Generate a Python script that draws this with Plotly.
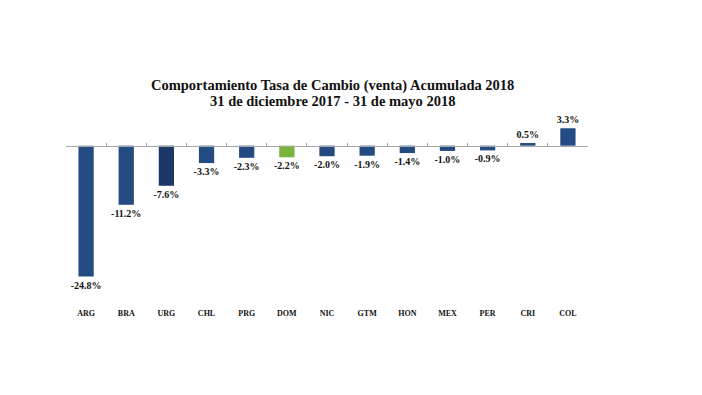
import plotly.graph_objects as go

categories = ["ARG", "BRA", "URG", "CHL", "PRG", "DOM", "NIC", "GTM", "HON", "MEX", "PER", "CRI", "COL"]
values = [-24.8, -11.2, -7.6, -3.3, -2.3, -2.2, -2.0, -1.9, -1.4, -1.0, -0.9, 0.5, 3.3]
labels = [f"{v:.1f}%" for v in values]
colors = ["#244B82", "#244B82", "#1B3866", "#244B82", "#244B82", "#7AB43E", "#244B82",
          "#244B82", "#244B82", "#244B82", "#244B82", "#244B82", "#244B82"]
title_lines = ["Comportamiento Tasa de Cambio (venta) Acumulada 2018",
               "31 de diciembre 2017 - 31 de mayo 2018"]

W, H = 694, 387
ml, mr, mt, mb = 58, 114, 106, 91
PH = H - mt - mb
PW = W - ml - mr
xrange_ = [-0.5, len(categories) - 0.5]

fig = go.Figure()
fig.add_trace(go.Bar(
    x=categories, y=values, marker=dict(color=colors, line=dict(width=0)),
    width=0.38, text=labels, textposition="outside", cliponaxis=False,
    texttemplate="<b>%{text}</b>",
    textfont=dict(family="Liberation Serif", size=10, color="#111111"),
    showlegend=False, hoverinfo="skip",
))
fig.add_trace(go.Scatter(x=categories, y=[0] * len(categories), xaxis="x2", mode="lines",
                         line=dict(width=0), opacity=0, showlegend=False, hoverinfo="skip"))

fig.update_layout(
    width=W, height=H,
    margin=dict(l=ml, r=mr, t=mt, b=mb, autoexpand=False),
    paper_bgcolor="white", plot_bgcolor="white",
    font=dict(family="Liberation Serif", color="#111111"),
    xaxis=dict(type="category", categoryorder="array", categoryarray=categories,
               range=xrange_, autorange=False,
               showline=False, showgrid=False, zeroline=False, ticks="",
               ticklabelstandoff=3,
               tickvals=categories, ticktext=[f"<b>{c}</b>" for c in categories],
               tickfont=dict(family="Liberation Serif", size=8, color="#111111")),
    xaxis2=dict(type="category", categoryorder="array", categoryarray=categories,
                range=xrange_, autorange=False,
                overlaying="x", anchor="free", position=30 / 36, side="bottom",
                showline=True, linecolor="#A6A6A6", linewidth=1,
                ticks="inside", tickson="boundaries", ticklen=3, tickcolor="#A6A6A6",
                showticklabels=False, showgrid=False, zeroline=False),
    yaxis=dict(range=[-30, 6], visible=False, showgrid=False, zeroline=False),
    uniformtext=dict(minsize=8, mode="show"),
)

for line, py in zip(title_lines, [77, 93]):
    fig.add_annotation(
        x=(324 - ml) / PW, y=1 + (mt - py) / PH,
        xref="paper", yref="paper", xanchor="center", yanchor="middle",
        text=f"<b>{line}</b>", showarrow=False, borderpad=0,
        font=dict(family="Liberation Serif", size=14.5, color="#111111"),
    )

fig.write_html("out.html")
